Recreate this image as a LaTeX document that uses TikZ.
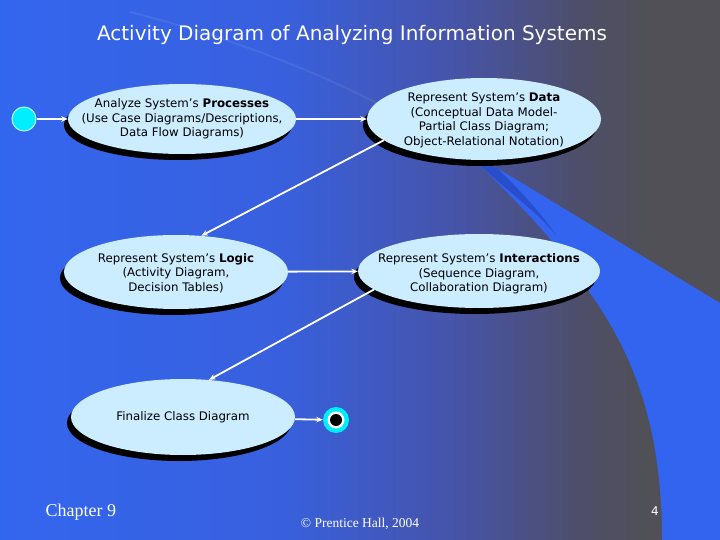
\documentclass[tikz,border=0pt]{standalone}
\usepackage{fontspec}
\setmainfont{DejaVu Sans}
\newfontfamily\serifft{Liberation Serif}
\usetikzlibrary{shapes.geometric,arrows.meta,shadows}
\definecolor{bgA}{RGB}{51,102,238}
\definecolor{bgB}{RGB}{56,96,222}
\definecolor{bgC}{RGB}{70,84,170}
\definecolor{bgD}{RGB}{78,78,105}
\definecolor{bgE}{RGB}{80,80,86}
\definecolor{swoosh}{RGB}{50,100,240}
\definecolor{swooshdark}{RGB}{38,70,190}
\definecolor{ellfill}{RGB}{204,236,255}
\definecolor{startcyan}{RGB}{0,238,255}
\pgfdeclarehorizontalshading{bgshade}{100bp}{color(0bp)=(bgA); color(25bp)=(bgA); color(44.4bp)=(bgB); color(56.25bp)=(bgC); color(65.3bp)=(bgD); color(70.1bp)=(bgE); color(100bp)=(bgE)}
\tikzset{
  act/.style={ellipse, fill=ellfill, inner sep=0pt,
    drop shadow={shadow xshift=-4pt, shadow yshift=-6pt, fill=black, opacity=1}},
  acttext/.style={align=center, inner sep=0pt, font=\fontsize{11.8}{14.5}\selectfont},
  flow/.style={white, line width=1.8pt, -{Stealth[length=6.5pt,width=5.5pt]}},
}
\begin{document}
\begin{tikzpicture}[x=1pt,y=-1pt]
\useasboundingbox (0,0) rectangle (720,540);
\shade[shading=bgshade] (0,0) rectangle (720,540);
% decorative swoosh
\draw[white, opacity=0.07, line width=2pt] (130,12) .. controls (260,45) and (380,95) .. (480,165);
\fill[swoosh] (480,165) -- (497,168) -- (720,303) -- (720,540) -- (662,540)
  .. controls (662,450) and (645,370) .. (590,293) .. controls (560,245) and (520,205) .. (480,165) -- cycle;
\fill[swooshdark, opacity=0.7] (480,165) -- (497,168) .. controls (520,190) and (540,212) .. (556,235)
  .. controls (535,210) and (508,192) .. (480,165) -- cycle;
% title
\node[white, font=\fontsize{20}{24}\selectfont] (title) at (352,35) {Activity Diagram of Analyzing Information Systems};
% activities
\node[act, minimum width=228pt, minimum height=70pt] (proc) at (182,119) {};
\node[acttext] (proct) at (proc.center)
  {Analyze System’s \textbf{Processes}\\(Use Case Diagrams/Descriptions,\\Data Flow Diagrams)};
\node[act, minimum width=234pt, minimum height=82pt] (data) at (484,119) {};
\node[acttext] (datat) at ([yshift=-1.5pt]data.center)
  {Represent System’s \textbf{Data}\\(Conceptual Data Model-\\Partial Class Diagram;\\Object-Relational Notation)};
\node[act, minimum width=224pt, minimum height=74pt] (logic) at (176,272) {};
\node[acttext] (logict) at ([yshift=-1pt]logic.center)
  {Represent System’s \textbf{Logic}\\(Activity Diagram,\\Decision Tables)};
\node[act, minimum width=242pt, minimum height=74pt] (inter) at (479,271) {};
\node[acttext] (intert) at ([yshift=-3pt]inter.center)
  {Represent System’s \textbf{Interactions}\\(Sequence Diagram,\\Collaboration Diagram)};
\node[act, minimum width=224pt, minimum height=76pt] (final) at (183,417) {};
\node[acttext] (finalt) at (final.center) {Finalize Class Diagram};
% start / end
\node[circle, fill=startcyan, draw=white!70!startcyan, line width=1pt, minimum size=24pt, inner sep=0pt] (start) at (24,119) {};
\node[circle, fill=startcyan, minimum size=26pt, inner sep=0pt] (end) at (336,420) {};
\fill[white] (end.center) circle (8.5pt);
\fill[black] (end.center) circle (6pt);
% flows
\draw[flow] (start) -- (proc);
\draw[flow] (proc) -- (data);
\draw[flow] (data.192) -- (logic.55);
\draw[flow] (logic) -- (inter);
\draw[flow] (inter.190) -- (final.55);
\draw[flow] (final) -- (end);
% footer
\node[white, anchor=base west, font=\serifft\fontsize{18}{20}\selectfont] (chap) at (42,516) {Chapter 9};
\node[white, anchor=base, font=\serifft\fontsize{13.5}{15}\selectfont] (copy) at (360,527) {© Prentice Hall, 2004};
\node[white, anchor=base, font=\fontsize{12}{14}\selectfont] (page) at (655,515) {4};
\end{tikzpicture}
\end{document}
